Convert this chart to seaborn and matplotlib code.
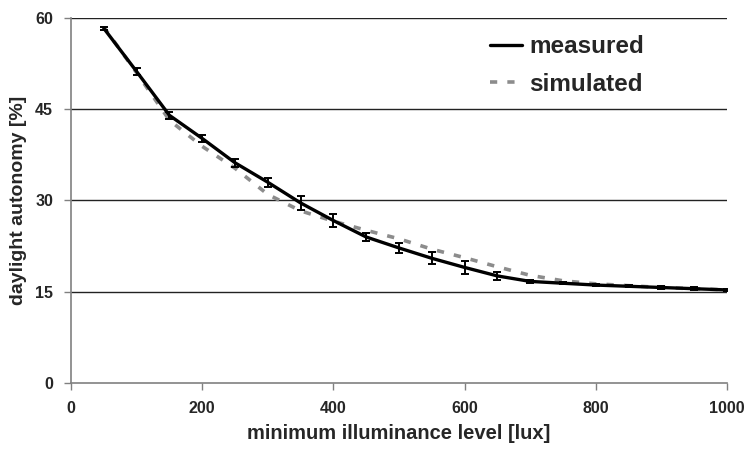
import matplotlib
matplotlib.use("Agg")
import matplotlib.pyplot as plt
import seaborn as sns
import pandas as pd

# Minimum illuminance thresholds [lux]
illuminance = [50, 100, 150, 200, 250, 300, 350, 400, 450, 500,
               550, 600, 650, 700, 750, 800, 850, 900, 950, 1000]
# Daylight autonomy [%]
measured = [58.3, 51.2, 44.0, 40.2, 36.2, 33.0, 29.6, 26.7, 24.0, 22.2,
            20.5, 19.0, 17.6, 16.7, 16.4, 16.1, 15.9, 15.7, 15.5, 15.3]
measured_err = [0.3, 0.6, 0.6, 0.6, 0.7, 0.7, 1.1, 1.0, 0.7, 0.8,
                1.0, 1.0, 0.7, 0.3, 0.2, 0.2, 0.2, 0.2, 0.2, 0.2]
simulated = [58.5, 51.0, 43.2, 38.9, 35.3, 31.0, 28.3, 26.6, 25.1, 23.7,
             22.0, 20.6, 19.1, 17.7, 16.8, 16.3, 16.0, 15.7, 15.5, 15.3]

x_ticks = [0, 200, 400, 600, 800, 1000]
y_ticks = [0, 15, 30, 45, 60]

sns.set_theme(style="white")
plt.rcParams["font.family"] = ["Liberation Sans", "DejaVu Sans"]
plt.rcParams["font.weight"] = "bold"

df = pd.DataFrame({
    "illuminance": illuminance * 2,
    "autonomy": measured + simulated,
    "series": ["measured"] * len(measured) + ["simulated"] * len(simulated),
})

fig = plt.figure(figsize=(7.46, 4.53), dpi=100)
ax = fig.add_axes([0.0952, 0.1545, 0.8793, 0.8058])

for y in y_ticks[1:]:
    ax.axhline(y, color="#222222", lw=1.0, zorder=0)

sns.lineplot(data=df[df.series == "simulated"], x="illuminance", y="autonomy",
             color="#8c8c8c", lw=2.6, ax=ax, label="simulated", zorder=2)
ax.lines[-1].set_dashes([2.0, 2.8])
ax.errorbar(illuminance, measured, yerr=measured_err, fmt="none",
            ecolor="black", elinewidth=1.4, capsize=3.2, capthick=1.4, zorder=3)
sns.lineplot(data=df[df.series == "measured"], x="illuminance", y="autonomy",
             color="black", lw=2.4, ax=ax, label="measured", zorder=4)

ax.set_xlim(0, 1000)
ax.set_ylim(0, 60)
ax.set_xticks(x_ticks)
ax.set_yticks(y_ticks)
ax.tick_params(axis="both", which="major", direction="out", length=5,
               width=1, color="#808080", labelsize=11.5, pad=8,
               bottom=True, left=True)
for lab in ax.get_xticklabels() + ax.get_yticklabels():
    lab.set_fontweight("bold")

for side in ("top", "right"):
    ax.spines[side].set_visible(False)
for side in ("left", "bottom"):
    ax.spines[side].set_color("#808080")
    ax.spines[side].set_linewidth(1.2)

ax.set_xlabel("minimum illuminance level [lux]", fontsize=14.5,
              fontweight="bold", labelpad=6)
ax.set_ylabel("daylight autonomy [%]", fontsize=14, fontweight="bold",
              labelpad=6)

handles, labels = ax.get_legend_handles_labels()
order = [labels.index("measured"), labels.index("simulated")]
leg = ax.legend([handles[i] for i in order], [labels[i] for i in order],
                loc="upper left", bbox_to_anchor=(0.639, 0.953), frameon=False,
                borderaxespad=0, borderpad=0,
                prop={"size": 17.5, "weight": "bold"}, handlelength=1.3,
                handletextpad=0.3, labelspacing=0.6)

fig.savefig("out.png", dpi=100)
